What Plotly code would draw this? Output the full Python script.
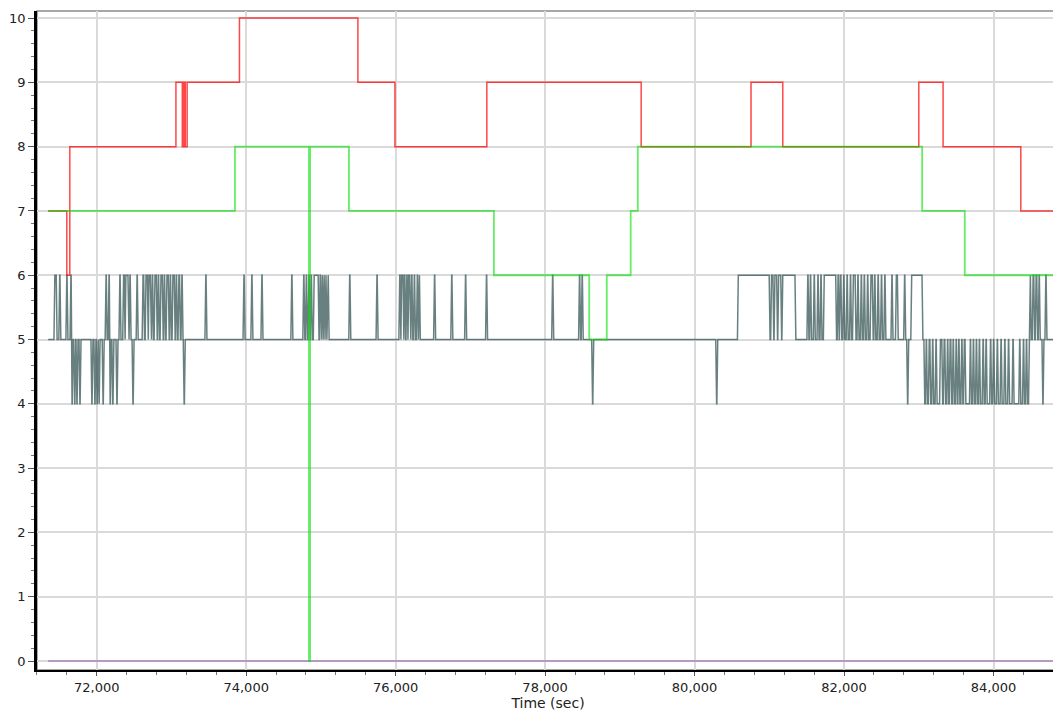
import plotly.graph_objects as go

# step series (time in sec, level)
red_time = [71350, 71600, 71640, 73060, 73145, 73165, 73185, 73210, 73910, 75495,
            75990, 77220, 79285, 80755, 81180, 83000, 83325, 84365, 84870]
red_level = [7, 6, 8, 9, 8, 9, 8, 9, 10, 9, 8, 9, 8, 9, 8, 9, 8, 7, 7]

green_time = [71350, 73850, 74840, 74855, 75375, 77315, 78590, 78825, 79145, 79240,
              83045, 83615, 84870]
green_level = [7, 8, 0, 8, 7, 6, 5, 6, 7, 8, 7, 6, 6]

zero_time = [71350, 84870]
zero_level = [0, 0]

# noisy series: (time the level starts, level)
gray_steps = [
    (71350, 5), (71440, 6), (71470, 5), (71505, 6), (71520, 5), (71600, 6), (71615, 5),
    (71655, 6), (71670, 4), (71685, 5), (71705, 4), (71720, 5), (71735, 4), (71750, 5),
    (71775, 4), (71790, 5), (71935, 4), (71950, 5), (71975, 4), (71990, 5), (72005, 4),
    (72020, 5), (72030, 4), (72045, 5), (72085, 4), (72100, 5), (72125, 6), (72140, 5),
    (72165, 6), (72180, 4), (72195, 5), (72215, 4), (72230, 5), (72270, 4), (72285, 5),
    (72310, 6), (72325, 5), (72360, 6), (72380, 5), (72390, 6), (72430, 5), (72445, 6),
    (72460, 5), (72485, 4), (72500, 5), (72540, 6), (72555, 5),
    (72620, 6), (72640, 5), (72660, 6), (72690, 5), (72700, 6), (72730, 5), (72745, 6),
    (72760, 5), (72780, 6), (72810, 5), (72825, 6), (72840, 5), (72860, 6), (72890, 5),
    (72905, 6), (72920, 5), (72940, 6), (72970, 5), (72985, 6), (73000, 5), (73020, 6),
    (73050, 5), (73065, 6), (73080, 5), (73100, 6), (73120, 5), (73140, 6), (73155, 5),
    (73170, 4), (73185, 5),
    (73460, 6), (73475, 5), (73970, 6), (73985, 5), (74075, 6), (74090, 5), (74210, 6),
    (74225, 5), (74610, 6), (74625, 5),
    (74770, 6), (74785, 5), (74805, 6), (74820, 5), (74840, 6), (74855, 5), (74870, 6),
    (74885, 5), (74910, 6), (74975, 5), (74990, 6), (75005, 5), (75015, 6), (75030, 5),
    (75040, 6), (75055, 5), (75065, 6), (75080, 5), (75090, 6), (75110, 5),
    (75385, 6), (75400, 5), (75750, 6), (75765, 5),
    (76055, 6), (76070, 5), (76080, 6), (76110, 5), (76120, 6), (76135, 5), (76150, 6),
    (76165, 5), (76175, 6), (76200, 5), (76215, 6), (76230, 5), (76250, 6), (76265, 5),
    (76290, 6), (76305, 5), (76315, 6), (76330, 5),
    (76520, 6), (76535, 5), (76750, 6), (76765, 5), (76935, 6), (76950, 5), (77215, 6),
    (77230, 5), (78100, 6), (78115, 5), (78460, 6), (78475, 5), (78495, 6), (78510, 5),
    (78635, 4), (78650, 5), (80295, 4), (80310, 5), (80585, 6),
    (81010, 5), (81030, 6), (81060, 5), (81075, 6), (81110, 5), (81125, 6), (81165, 5),
    (81180, 6), (81355, 5), (81515, 6), (81530, 5), (81550, 6), (81565, 5), (81600, 6),
    (81615, 5), (81650, 6), (81665, 5), (81690, 6), (81705, 5), (81735, 6), (81900, 5),
    (81920, 6), (81935, 5), (81950, 6), (81970, 5), (81995, 6), (82010, 5), (82040, 6),
    (82055, 5), (82085, 6), (82100, 5), (82125, 6), (82160, 5), (82185, 6), (82200, 5),
    (82230, 6), (82245, 5), (82270, 6), (82285, 5), (82315, 6), (82330, 5), (82360, 6),
    (82390, 5), (82410, 6), (82425, 5), (82455, 6), (82470, 5), (82500, 6), (82515, 5),
    (82545, 6), (82560, 5), (82640, 6), (82655, 5), (82700, 6), (82725, 5), (82810, 6),
    (82825, 5), (82850, 4), (82865, 5), (82905, 6), (83055, 5),
    (83080, 4), (83100, 5), (83115, 4), (83140, 5), (83160, 4), (83185, 5), (83200, 4),
    (83230, 5), (83245, 4), (83290, 5), (83320, 4), (83340, 5), (83360, 4), (83385, 5),
    (83400, 4), (83420, 5), (83440, 4), (83460, 5), (83475, 4), (83500, 5), (83515, 4),
    (83535, 5), (83550, 4), (83575, 5), (83590, 4), (83610, 5), (83630, 4), (83690, 5),
    (83705, 4), (83730, 5), (83745, 4), (83770, 5), (83785, 4), (83810, 5), (83825, 4),
    (83860, 5), (83875, 4), (83900, 5), (83915, 4), (83960, 5), (83975, 4), (84000, 5),
    (84015, 4), (84050, 5), (84065, 4), (84100, 5), (84115, 4), (84150, 5), (84165, 4),
    (84200, 5), (84215, 4), (84260, 5), (84275, 4), (84350, 5), (84365, 4), (84400, 5),
    (84415, 4), (84440, 5), (84455, 4), (84480, 5),
    (84490, 6), (84505, 5), (84530, 6), (84550, 5), (84570, 6), (84590, 5), (84610, 6),
    (84625, 5), (84660, 4), (84675, 5), (84700, 6), (84715, 5),
]
gray_end = 84870


def steps_to_line(steps, t_end, ramp=12):
    xs, ys = [], []
    for i, (t, v) in enumerate(steps):
        nxt = steps[i + 1][0] if i + 1 < len(steps) else t_end
        xs.append(t)
        ys.append(v)
        if nxt - ramp > t:
            xs.append(nxt - ramp)
            ys.append(v)
    return xs, ys


gx, gy = steps_to_line(gray_steps, gray_end)

fig = go.Figure()
fig.add_trace(go.Scatter(x=zero_time, y=zero_level, mode='lines',
                         line=dict(color='rgba(120,60,160,0.4)', width=2)))
fig.add_trace(go.Scatter(x=gx, y=gy, mode='lines',
                         line=dict(color='rgba(47,79,79,0.72)', width=1.5)))
fig.add_trace(go.Scatter(x=red_time, y=red_level, mode='lines', line_shape='hv',
                         line=dict(color='rgba(255,0,0,0.72)', width=1.5)))
fig.add_trace(go.Scatter(x=green_time, y=green_level, mode='lines', line_shape='hv',
                         line=dict(color='rgba(0,225,0,0.6)', width=1.8)))

fig.add_shape(type='rect', xref='paper', yref='paper', x0=0, x1=1, y0=0, y1=1,
              line=dict(color='#8a8a8a', width=1.5), layer='below')

# page body has an 8px margin, so the figure is sized to fit the window
fig.update_layout(
    width=1053, height=707,
    margin=dict(l=29, r=2, t=3, b=45),
    plot_bgcolor='white', paper_bgcolor='white',
    showlegend=False,
    font=dict(family='DejaVu Sans', size=13, color='#222'),
)
fig.update_xaxes(
    automargin=False,
    range=[71201, 84876], tick0=72000, dtick=2000, tickformat=',d',
    showgrid=True, gridcolor='#dadada', gridwidth=1.5, zeroline=False,
    showline=True, linecolor='black', linewidth=2,
    ticks='outside', ticklen=4, tickcolor='#555',
    minor=dict(tick0=72000, dtick=400, ticklen=3, tickcolor='#777', ticks='outside', showgrid=False),
    title=dict(text='Time (sec)', standoff=2, font=dict(size=14)),
)
fig.update_yaxes(
    automargin=False,
    range=[-0.14, 10.11], tick0=0, dtick=1,
    showgrid=True, gridcolor='#dadada', gridwidth=1.5, zeroline=False,
    showline=True, linecolor='black', linewidth=2.5,
    ticks='outside', ticklen=6, tickcolor='#555',
    minor=dict(dtick=0.2, ticklen=3, tickcolor='#777', ticks='outside', showgrid=False),
)

fig.write_html("out.html")
